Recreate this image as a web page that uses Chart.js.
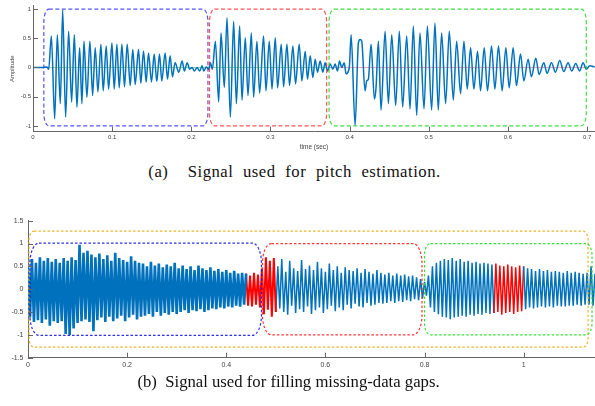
<!DOCTYPE html>
<html>
<head>
<meta charset="utf-8">
<script src="https://cdn.jsdelivr.net/npm/chart.js@4.4.0/dist/chart.umd.min.js"></script>
<style>
  html, body { margin: 0; padding: 0; background: #fff; }
  #page { position: relative; width: 595px; height: 406px; overflow: hidden; }
  .plot { position: absolute; left: 0; width: 595px; }
  #plotA { top: 0; height: 155px; }
  #plotB { top: 212px; height: 165px; }
  .cap { position: absolute; width: 595px; text-align: center; white-space: pre;
         font-family: "Liberation Serif", "Times New Roman", serif; font-size: 16.7px; color: #111; line-height: normal; }
</style>
</head>
<body>
<div id="page">
  <div class="plot" id="plotA"><canvas id="chartA"></canvas></div>
  <div class="plot" id="plotB"><canvas id="chartB"></canvas></div>
  <div class="cap" style="top:162px;left:-3px;word-spacing:5px;letter-spacing:0.5px">(a)  Signal used for pitch estimation.</div>
  <div class="cap" style="top:372px;left:-9px">(b)  Signal used for filling missing-data gaps.</div>
</div>
<script>
// (a) pitch signal: peaks / troughs
const topTime = [0, 0.011, 0.0177, 0.0198, 0.0232, 0.0274, 0.0307, 0.0345, 0.0375, 0.0412,
  0.0450, 0.0488, 0.0522, 0.0555, 0.0589, 0.0618, 0.0644, 0.0681, 0.0719, 0.0753,
  0.0786, 0.0820, 0.0858, 0.0887, 0.0925, 0.0955, 0.0997, 0.1026, 0.1060, 0.1089,
  0.1123, 0.1156, 0.1190, 0.1228, 0.1261, 0.1291, 0.1333, 0.1362, 0.1396, 0.1430,
  0.1459, 0.1497, 0.1531, 0.1564, 0.1598, 0.1627, 0.1669, 0.1699, 0.1732, 0.1762,
  0.1795, 0.1842, 0.1884, 0.1913, 0.1947, 0.1980, 0.2010, 0.2039, 0.2073, 0.2106,
  0.2136, 0.2157, 0.2190, 0.2220, 0.2241, 0.2266, 0.2304, 0.2346, 0.2375, 0.2417,
  0.2451, 0.2493, 0.2535, 0.2569, 0.2611, 0.2640, 0.2682, 0.2716, 0.2758, 0.2787,
  0.2829, 0.2863, 0.2913, 0.2943, 0.2985, 0.3019, 0.3061, 0.3090, 0.3136, 0.3166,
  0.3208, 0.3241, 0.3283, 0.3317, 0.3363, 0.3397, 0.3439, 0.3468, 0.3502, 0.3535,
  0.3565, 0.3594, 0.3628, 0.3662, 0.3691, 0.3721, 0.3754, 0.3788, 0.3817, 0.3847,
  0.3872, 0.3901, 0.3931, 0.3956, 0.3985, 0.3998, 0.4019, 0.4069, 0.4111, 0.4132,
  0.4153, 0.4195, 0.4216, 0.4237, 0.4271, 0.4313, 0.4334, 0.4363, 0.4397, 0.4448,
  0.4490, 0.4532, 0.4582, 0.4628, 0.4670, 0.4721, 0.4763, 0.4805, 0.4847, 0.4889,
  0.4940, 0.4982, 0.5036, 0.5078, 0.5120, 0.5162, 0.5213, 0.5259, 0.5310, 0.5352,
  0.5402, 0.5444, 0.5486, 0.5528, 0.5570, 0.5616, 0.5654, 0.5700, 0.5742, 0.5793,
  0.5835, 0.5881, 0.5927, 0.5974, 0.6016, 0.6066, 0.6108, 0.6159, 0.6201, 0.6255,
  0.6297, 0.6352, 0.6394, 0.6453, 0.6495, 0.6550, 0.6600, 0.6655, 0.6705, 0.6760,
  0.6806, 0.6856, 0.6907, 0.6949, 0.6991, 0.7033, 0.7096];
const topAmp = [0, 0, 0.01, -0.03, 0.54, -0.88, 0.56, -0.62, 0.99, -0.85,
  0.62, -0.59, 0.56, -0.68, 0.34, -0.62, 0.45, -0.51, 0.45, -0.48,
  0.34, -0.42, 0.40, -0.40, 0.37, -0.37, 0.42, -0.37, 0.40, -0.35,
  0.40, -0.33, 0.40, -0.31, 0.31, -0.29, 0.31, -0.27, 0.28, -0.25,
  0.25, -0.25, 0.23, -0.24, 0.23, -0.23, 0.25, -0.20, 0.20, -0.16,
  0.08, -0.08, 0.11, -0.06, 0.08, -0.03, 0.00, -0.06, 0.00, -0.06,
  0.03, -0.06, 0.01, -0.03, 0.08, -0.03, 0.45, -0.59, 0.59, -0.34,
  0.85, -0.85, 0.79, -0.62, 0.71, -0.56, 0.51, -0.48, 0.59, -0.51,
  0.45, -0.44, 0.54, -0.40, 0.45, -0.37, 0.51, -0.35, 0.40, -0.33,
  0.40, -0.31, 0.37, -0.28, 0.40, -0.23, 0.28, -0.20, 0.20, -0.17,
  0.14, -0.08, 0.11, -0.08, 0.08, -0.06, 0.06, -0.03, 0.06, -0.06,
  0.11, 0.00, 0.08, -0.11, -0.06, 0.03, 0.56, -0.99, 0.42, 0.48,
  0.45, -0.40, -0.23, -0.20, 0.40, -0.54, -0.34, 0.45, -0.73, 0.62,
  -0.62, 0.56, -0.65, 0.62, -0.68, 0.54, -0.71, 0.71, -0.82, 0.59,
  -0.71, 0.71, -0.73, 0.76, -0.73, 0.59, -0.62, 0.62, -0.56, 0.45,
  -0.45, 0.45, -0.37, 0.34, -0.37, 0.28, -0.40, 0.34, -0.40, 0.37,
  -0.37, 0.37, -0.40, 0.34, -0.35, 0.34, -0.31, 0.23, -0.23, 0.14,
  -0.16, 0.16, -0.12, 0.08, -0.10, 0.08, -0.08, 0.12, -0.07, 0.08,
  -0.06, 0.07, -0.06, 0.08, -0.03, 0.03, 0.01];
const topXTicks = [0, 0.1, 0.2, 0.3, 0.4, 0.5, 0.6, 0.7];
const topYTicks = [-1, -0.5, 0, 0.5, 1];
// segment boxes of (a), in data units
const topBoxFrom = [0.0137, 0.223, 0.374];
const topBoxTo = [0.221, 0.371, 0.699];
const topBoxLow = [-1, -1, -1];
const topBoxHigh = [1, 1, 1];
const topZeroFrom = [0.018, 0.372];
const topZeroTo = [0.372, 0.70];

// (b) gap-filling signal: extremes every 4 ms
const bottomStep = 0.004;
const bottomAmp = [
  0.5,-0.62,0.66,-0.72,0.58,-0.68,0.7,-0.74,0.62,-0.66,
  0.68,-0.8,0.6,-0.7,0.66,-0.74,0.58,-0.7,0.68,-0.98,
  0.62,-1.0,0.7,-0.86,0.64,-0.74,0.97,-0.7,0.8,-0.66,
  0.84,-0.72,0.76,-0.92,0.7,-0.68,0.78,-0.62,0.66,-0.72,
  0.74,-0.6,0.62,-0.7,0.8,-0.64,0.68,-0.58,0.64,-0.7,
  0.6,-0.62,0.72,-0.56,0.62,-0.66,0.58,-0.6,0.56,-0.58,
  0.5,-0.54,0.6,-0.6,0.52,-0.5,0.56,-0.58,0.48,-0.52,
  0.54,-0.56,0.5,-0.5,0.58,-0.54,0.46,-0.5,0.52,-0.46,
  0.44,-0.52,0.5,-0.46,0.42,-0.48,0.52,-0.44,0.46,-0.5,
  0.42,-0.46,0.48,-0.42,0.4,-0.44,0.44,-0.4,0.38,-0.42,
  0.42,-0.38,0.36,-0.4,0.4,-0.36,0.34,-0.38,0.36,-0.34,
  0.34,-0.36,0.3,-0.38,0.36,-0.34,0.32,-0.4,0.45,-0.55,0.7,-0.45,0.62,-0.6,0.68,-0.5,
  0.5,-0.42,0.66,-0.5,0.38,-0.56,0.62,-0.36,0.46,-0.52,
  0.4,-0.44,0.64,-0.5,0.44,-0.38,0.52,-0.54,0.42,-0.46,
  0.6,-0.4,0.46,-0.52,0.38,-0.44,0.56,-0.36,0.42,-0.48,
  0.5,-0.4,0.36,-0.46,0.48,-0.34,0.42,-0.42,0.4,-0.32,
  0.46,-0.38,0.36,-0.4,0.44,-0.3,0.38,-0.36,0.34,-0.34,
  0.42,-0.3,0.36,-0.32,0.32,-0.3,0.36,-0.26,0.3,-0.3,
  0.34,-0.26,0.3,-0.28,0.32,-0.24,0.28,-0.26,0.3,-0.22,
  0.26,-0.24,0.22,-0.2,
  0.16,-0.14,0.3,-0.4,
  0.5,-0.5,0.58,-0.55,0.62,-0.6,0.66,-0.62,0.64,-0.66,
  0.68,-0.62,0.62,-0.6,0.66,-0.58,0.6,-0.6,0.62,-0.56,
  0.58,-0.58,0.6,-0.54,0.56,-0.56,0.58,-0.52,0.56,-0.54,
  0.54,
  -0.52,0.56,-0.5,0.52,-0.56,0.5,-0.52,0.54,-0.5,0.5,-0.54,0.48,-0.5,0.52,-0.48,0.5,
  -0.44,0.46,-0.4,0.44,-0.42,0.4,-0.4,0.44,-0.38,0.4,
  -0.4,0.42,-0.38,0.38,-0.4,0.4,-0.36,0.38,-0.38,0.36,
  -0.38,0.4,-0.36,0.36,-0.36,0.38,-0.34,0.36,-0.36,0.34,
  -0.34,0.36,-0.34,0.5,-0.36,0.34];
const gapFrom = [0.44, 0.94];
const gapTo = [0.5, 1.0];
const bottomXTicks = [0, 0.2, 0.4, 0.6, 0.8, 1];
const bottomYTicks = [-1.5, -1, -0.5, 0, 0.5, 1, 1.5];
const bottomBoxFrom = [0.002, 0.004, 0.473, 0.80];
const bottomBoxTo = [1.13, 0.471, 0.795, 1.138];
const bottomBoxLow = [-1.27, -1.01, -1.0, -1.0];
const bottomBoxHigh = [1.27, 1.01, 1.0, 1.0];

const BLUE = '#0072BD';
const RED = '#ff0000';
const AXIS = '#666';
const TXT = '#444';
const SANS = '"Liberation Sans", Arial, sans-serif';

function roundBox(ctx, l, t, r, b, rx, ry) {
  ctx.beginPath();
  ctx.moveTo(l + rx, t);
  ctx.lineTo(r - rx, t);
  ctx.ellipse(r - rx, t + ry, rx, ry, 0, -Math.PI / 2, 0);
  ctx.lineTo(r, b - ry);
  ctx.ellipse(r - rx, b - ry, rx, ry, 0, 0, Math.PI / 2);
  ctx.lineTo(l + rx, b);
  ctx.ellipse(l + rx, b - ry, rx, ry, 0, Math.PI / 2, Math.PI);
  ctx.lineTo(l, t + ry);
  ctx.ellipse(l + rx, t + ry, rx, ry, 0, Math.PI, Math.PI * 1.5);
  ctx.stroke();
}

// dashed rounded boxes round each segment
const boxPlugin = {
  id: 'boxes',
  afterDatasetsDraw(chart, args, o) {
    const { ctx, scales: { x, y } } = chart;
    ctx.save();
    ctx.lineWidth = o.width;
    ctx.setLineDash(o.dash);
    o.from.forEach((x0, i) => {
      ctx.strokeStyle = o.colors[i];
      roundBox(ctx, x.getPixelForValue(x0), y.getPixelForValue(o.high[i]),
        x.getPixelForValue(o.to[i]), y.getPixelForValue(o.low[i]), o.rx[i], o.ry[i]);
    });
    ctx.restore();
  }
};

// matlab style ticks pointing into the axes
const inTicks = {
  id: 'inTicks',
  afterDraw(chart, args, o) {
    const { ctx, chartArea: a, scales: { x, y } } = chart;
    ctx.save();
    ctx.strokeStyle = AXIS;
    ctx.lineWidth = 1;
    ctx.beginPath();
    x.ticks.forEach(t => {
      const px = Math.round(x.getPixelForValue(t.value)) + 0.5;
      ctx.moveTo(px, a.bottom); ctx.lineTo(px, a.bottom - o.len);
    });
    y.ticks.forEach(t => {
      const py = Math.round(y.getPixelForValue(t.value)) + 0.5;
      ctx.moveTo(a.left, py); ctx.lineTo(a.left + o.len, py);
    });
    ctx.stroke();
    ctx.restore();
  }
};

const topPoints = topTime.map((t, i) => ({ x: t, y: topAmp[i] }));
const zeroColors = ['rgba(110,205,110,0.75)', 'rgba(235,130,150,0.75)'];
const zeroSets = topZeroFrom.map((x0, i) => ({
  data: [{ x: x0, y: 0 }, { x: topZeroTo[i], y: 0 }],
  borderColor: zeroColors[i], borderWidth: 1, pointRadius: 0
}));

new Chart(document.getElementById('chartA'), {
  type: 'line',
  data: {
    datasets: [
      { data: topPoints, borderColor: BLUE, borderWidth: 1.5, pointRadius: 0, cubicInterpolationMode: 'monotone' }
    ].concat(zeroSets)
  },
  options: {
    responsive: true, maintainAspectRatio: false, animation: false,
    layout: { padding: { top: 4, right: 0, bottom: 0, left: 0 } },
    plugins: {
      legend: { display: false }, tooltip: { enabled: false },
      boxes: {
        from: topBoxFrom, to: topBoxTo, low: topBoxLow, high: topBoxHigh,
        colors: ['rgba(40,40,255,0.8)', 'rgba(255,40,40,0.8)', 'rgba(30,215,30,0.85)'],
        rx: [5, 5, 5], ry: [13, 13, 13], width: 1.2, dash: [4, 2.5]
      },
      inTicks: { len: 5 }
    },
    scales: {
      x: {
        type: 'linear', min: 0, max: 0.71,
        grid: { display: false, drawTicks: false },
        border: { color: AXIS, width: 1 },
        afterBuildTicks: s => { s.ticks = topXTicks.map(v => ({ value: v })); },
        afterFit: s => { s.height = 23.3; },
        ticks: { padding: 2, color: TXT, font: { family: SANS, size: 6 }, maxRotation: 0, callback: v => String(v) },
        title: { display: true, text: 'time (sec)', color: TXT, font: { family: SANS, size: 6.5 }, padding: { top: 0, bottom: 4 } }
      },
      y: {
        min: -1.1, max: 1.06,
        grid: { display: false, drawTicks: false },
        border: { color: AXIS, width: 1 },
        afterBuildTicks: s => { s.ticks = topYTicks.map(v => ({ value: v })); },
        afterFit: s => { s.width = 33; },
        ticks: { padding: 2, color: TXT, font: { family: SANS, size: 6 }, callback: v => String(v) },
        title: { display: true, text: 'Amplitude', color: TXT, font: { family: SANS, size: 6 }, padding: { top: 9, bottom: 0 } }
      }
    }
  },
  plugins: [boxPlugin, inTicks]
});

// (b) split into three pieces so each can get its own stroke width
const bottomPoints = bottomAmp.map((v, i) => ({ x: Math.round(i * bottomStep * 1000) / 1000, y: v }));
const eps = 1e-9;
const pieceStart = bottomPoints.filter(p => p.x <= gapFrom[0] + eps);
const pieceGap = bottomPoints.filter(p => p.x >= gapFrom[0] - eps && p.x <= gapTo[0] + eps);
const pieceRest = bottomPoints.filter(p => p.x >= gapTo[0] - eps);
const inGap2 = c => c.p0.parsed.x >= gapFrom[1] - eps && c.p1.parsed.x <= gapTo[1] + eps;

new Chart(document.getElementById('chartB'), {
  type: 'line',
  data: {
    datasets: [
      { data: pieceStart, borderColor: BLUE, borderWidth: 2.6, pointRadius: 0, borderJoinStyle: 'bevel' },
      { data: pieceGap, borderColor: RED, borderWidth: 2.0, pointRadius: 0, borderJoinStyle: 'bevel' },
      { data: pieceRest, borderColor: BLUE, borderWidth: 1.5, pointRadius: 0, borderJoinStyle: 'bevel',
        segment: { borderColor: c => inGap2(c) ? RED : BLUE } }
    ]
  },
  options: {
    responsive: true, maintainAspectRatio: false, animation: false,
    layout: { padding: { top: 8, right: 0, bottom: 0, left: 0 } },
    plugins: {
      legend: { display: false }, tooltip: { enabled: false },
      boxes: {
        from: bottomBoxFrom, to: bottomBoxTo, low: bottomBoxLow, high: bottomBoxHigh,
        colors: ['rgba(237,177,32,0.95)', 'rgba(20,20,235,0.9)', 'rgba(255,30,30,0.9)', 'rgba(30,225,30,0.9)'],
        rx: [5, 9, 9, 6], ry: [9, 20, 20, 12], width: 1.2, dash: [2.5, 2]
      },
      inTicks: { len: 5 }
    },
    scales: {
      x: {
        type: 'linear', min: 0, max: 1.144,
        grid: { display: false, drawTicks: false },
        border: { color: AXIS, width: 1 },
        afterBuildTicks: s => { s.ticks = bottomXTicks.map(v => ({ value: v })); },
        afterFit: s => { s.height = 19.3; },
        ticks: { padding: 3, color: TXT, font: { family: SANS, size: 7 }, maxRotation: 0, callback: v => String(v) }
      },
      y: {
        min: -1.5, max: 1.5,
        grid: { display: false, drawTicks: false },
        border: { color: AXIS, width: 1 },
        afterBuildTicks: s => { s.ticks = bottomYTicks.map(v => ({ value: v })); },
        afterFit: s => { s.width = 28; },
        ticks: { padding: 4.5, color: TXT, font: { family: SANS, size: 7 }, callback: v => String(v) }
      }
    }
  },
  plugins: [boxPlugin, inTicks]
});
</script>
</body>
</html>
